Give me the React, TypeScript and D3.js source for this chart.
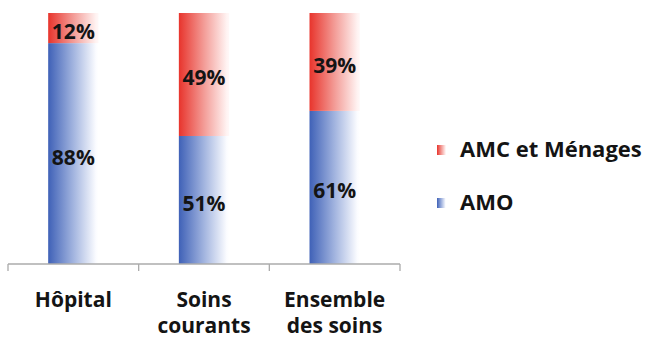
import React from "react";
import * as d3 from "d3";

const categories: string[][] = [["Hôpital"], ["Soins", "courants"], ["Ensemble", "des soins"]];
const amo: number[] = [88, 51, 61];
const amcMenages: number[] = [12, 49, 39];
const legendLabels: string[] = ["AMC et Ménages", "AMO"];

const W = 645;
const H = 338;
const FONT = "'Open Sans', sans-serif";

export default function App() {
  const keys = categories.map((c) => c.join(" "));
  const x = d3.scaleBand<string>().domain(keys).range([8, 400]).paddingInner(0).paddingOuter(0);
  const y = d3.scaleLinear().domain([0, 100]).range([264, 13]);
  const barW = x.bandwidth() * 0.385;

  const stacked = keys.map((k, i) => {
    const a = amo[i];
    const m = amcMenages[i];
    return [
      { key: k, series: "amo", y0: 0, y1: a, value: a },
      { key: k, series: "amc", y0: a, y1: a + m, value: m },
    ];
  });

  const ticks = [...keys.map((k) => x(k)!), x(keys[keys.length - 1])! + x.bandwidth()];

  return (
    <svg
      width={W}
      height={H}
      viewBox={`0 0 ${W} ${H}`}
      style={{ position: "fixed", left: 0, top: 0, background: "#fff" }}
    >
      <defs>
        <linearGradient id="gradAmo" x1="0" y1="0" x2="1" y2="0">
          <stop offset="0" stopColor="#3f61b7" />
          <stop offset="0.5" stopColor="#a2b4df" />
          <stop offset="0.95" stopColor="#fbfcff" />
          <stop offset="1" stopColor="#ffffff" />
        </linearGradient>
        <linearGradient id="gradAmc" x1="0" y1="0" x2="1" y2="0">
          <stop offset="0" stopColor="#e8342c" />
          <stop offset="0.5" stopColor="#f39c97" />
          <stop offset="0.95" stopColor="#fff3f2" />
          <stop offset="1" stopColor="#fff8f8" />
        </linearGradient>
      </defs>

      {stacked.map((segs, i) => {
        const cx = x(keys[i])! + x.bandwidth() / 2;
        return (
          <g key={keys[i]}>
            {segs.map((s) => (
              <rect
                key={s.series}
                x={cx - barW / 2}
                y={y(s.y1)}
                width={barW}
                height={y(s.y0) - y(s.y1)}
                fill={s.series === "amo" ? "url(#gradAmo)" : "url(#gradAmc)"}
              />
            ))}
            {segs.map((s) => (
              <text
                key={s.series + "-lbl"}
                x={cx}
                y={(y(s.y0) + y(s.y1)) / 2 + 11}
                textAnchor="middle"
                fontFamily={FONT}
                fontWeight={700}
                fontSize={21}
                fill="#141414"
              >
                {s.value}%
              </text>
            ))}
          </g>
        );
      })}

      <g stroke="#ababab" strokeWidth={1.3}>
        <line x1={8} x2={400} y1={y(0)} y2={y(0)} />
        {ticks.map((t, i) => (
          <line key={i} x1={t} x2={t} y1={y(0)} y2={y(0) + 7} />
        ))}
      </g>

      {categories.map((lines, i) => {
        const cx = x(keys[i])! + x.bandwidth() / 2;
        return (
          <text
            key={keys[i] + "-cat"}
            textAnchor="middle"
            fontFamily={FONT}
            fontWeight={700}
            fontSize={21}
            fill="#141414"
          >
            {lines.map((l, j) => (
              <tspan key={j} x={cx} y={307 + j * 26}>
                {l}
              </tspan>
            ))}
          </text>
        );
      })}

      {legendLabels.map((l, i) => (
        <g key={l} transform={`translate(437, ${145 + i * 53})`}>
          <rect width={9} height={10} fill={i === 0 ? "url(#gradAmc)" : "url(#gradAmo)"} />
          <text x={23} y={12} fontFamily={FONT} fontWeight={700} fontSize={22} fill="#141414">
            {l}
          </text>
        </g>
      ))}
    </svg>
  );
}
